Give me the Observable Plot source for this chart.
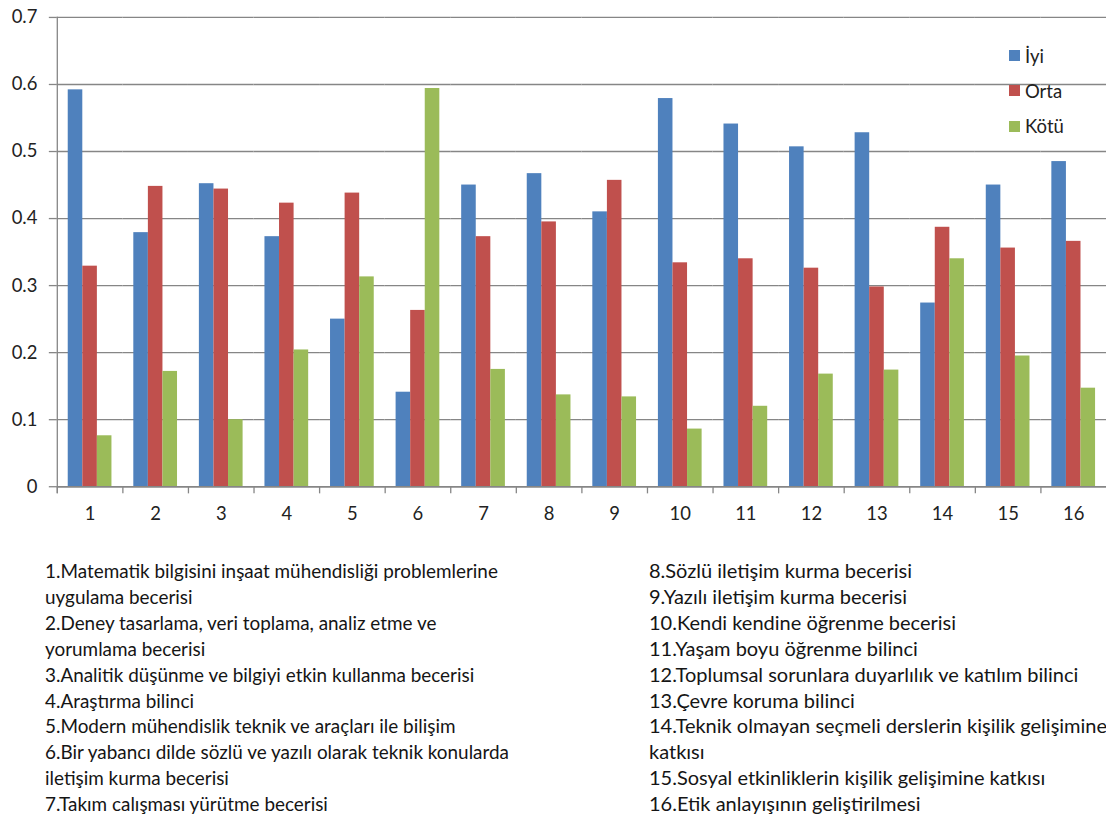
<!DOCTYPE html>
<html>
<head>
<meta charset="utf-8">
<script src="https://cdn.jsdelivr.net/npm/d3@7"></script>
<script src="https://cdn.jsdelivr.net/npm/@observablehq/plot@0.6"></script>
<style>
  html, body { margin: 0; padding: 0; background: #fff; overflow: hidden; }
  #wrap { position: relative; width: 1106px; height: 821px; overflow: hidden; font-family: Lato, "Open Sans", sans-serif; color: #222; }
  #chart { position: absolute; left: 0; top: 0; }
  #legend { position: absolute; left: 1009px; top: 38px; }
  #legend .lg-swatch { height: 35.3px; padding-bottom: 0; font-size: 18.5px; color: #222; }
  #legend .lg-swatch svg { margin-right: 5px; }
  .notes { position: absolute; top: 558px; line-height: 25.9px; white-space: nowrap; color: #151515; }
  #notesLeft { left: 45px; font-size: 18.9px; }
  #notesRight { left: 649px; font-size: 20px; }
</style>
</head>
<body>
<div id="wrap">
  <div id="chart"></div>
  <div id="legend"></div>
  <div id="notesLeft" class="notes"></div>
  <div id="notesRight" class="notes"></div>
</div>
<script>
// Skill categories 1–16 and the share of answers per rating
const categories = ["1","2","3","4","5","6","7","8","9","10","11","12","13","14","15","16"];
const series = ["İyi", "Orta", "Kötü"];
const iyi  = [0.592, 0.379, 0.452, 0.373, 0.250, 0.141, 0.450, 0.467, 0.410, 0.579, 0.541, 0.507, 0.528, 0.274, 0.450, 0.485];
const orta = [0.329, 0.448, 0.444, 0.423, 0.438, 0.263, 0.373, 0.395, 0.457, 0.334, 0.340, 0.326, 0.298, 0.387, 0.356, 0.366];
const kotu = [0.076, 0.172, 0.100, 0.204, 0.313, 0.594, 0.175, 0.137, 0.134, 0.086, 0.120, 0.168, 0.174, 0.340, 0.195, 0.147];
const yTicks = [0, 0.1, 0.2, 0.3, 0.4, 0.5, 0.6, 0.7];
const colors = ["#4F81BD", "#C0504D", "#9BBB59"];

// Category descriptions listed under the chart
const notesLeft = [
  "1.Matematik bilgisini inşaat mühendisliği problemlerine",
  "uygulama becerisi",
  "2.Deney tasarlama, veri toplama, analiz etme ve",
  "yorumlama becerisi",
  "3.Analitik düşünme ve bilgiyi etkin kullanma becerisi",
  "4.Araştırma bilinci",
  "5.Modern mühendislik teknik ve araçları ile bilişim",
  "6.Bir yabancı dilde sözlü ve yazılı olarak teknik konularda",
  "iletişim kurma becerisi",
  "7.Takım calışması yürütme becerisi"
];
const notesRight = [
  "8.Sözlü iletişim kurma becerisi",
  "9.Yazılı iletişim kurma becerisi",
  "10.Kendi kendine öğrenme becerisi",
  "11.Yaşam boyu öğrenme bilinci",
  "12.Toplumsal sorunlara duyarlılık ve katılım bilinci",
  "13.Çevre koruma bilinci",
  "14.Teknik olmayan seçmeli derslerin kişilik gelişimine",
  "katkısı",
  "15.Sosyal etkinliklerin kişilik gelişimine katkısı",
  "16.Etik anlayışının geliştirilmesi"
];

const valuesBySeries = [iyi, orta, kotu];
const data = [];
categories.forEach((c, i) => {
  series.forEach((s, j) => data.push({category: c, series: s, value: valuesBySeries[j][i]}));
});

const axisGray = "#868686";

const chart = Plot.plot({
  width: 1110,
  height: 540,
  marginLeft: 57,
  marginRight: 0,
  marginTop: 17,
  marginBottom: 52,
  style: {fontFamily: "Lato, 'Open Sans', sans-serif", fontSize: "18.5px", background: "#fff", color: "#222"},
  fx: {domain: categories, padding: 0, round: false, axis: null, label: null},
  x: {domain: series, paddingInner: 0, paddingOuter: 0.75, round: false, axis: null},
  y: {domain: [0, 0.7], axis: null},
  color: {domain: series, range: colors},
  marks: [
    Plot.gridY(yTicks, {stroke: axisGray, strokeOpacity: 1, strokeWidth: 1.3}),
    Plot.barY(data, {fx: "category", x: "series", y: "value", fill: "series"}),
    Plot.ruleY([0], {stroke: axisGray, strokeWidth: 1.3}),
    // category boundary ticks below the baseline
    Plot.frame({anchor: "left", stroke: axisGray, strokeWidth: 1.3, insetTop: 471, insetBottom: -6}),
    // vertical value axis line
    Plot.frame({anchor: "left", stroke: axisGray, strokeWidth: 1.3, insetBottom: -6, facetAnchor: "left"}),
    Plot.axisY(yTicks, {
      tickSize: 8, tickPadding: 12, stroke: axisGray, strokeWidth: 1.3, fill: "#222",
      tickFormat: d => d === 0 ? "0" : d.toFixed(1), label: null
    }),
    Plot.axisFx({anchor: "bottom", tickSize: 0, tickPadding: 20, fill: "#222", label: null})
  ]
});
document.getElementById("chart").appendChild(chart);

const legend = Plot.legend({
  color: {domain: series, range: colors},
  legend: "swatches",
  columns: 1,
  swatchSize: 11,
  className: "lg",
  style: {fontFamily: "Lato, 'Open Sans', sans-serif", fontSize: "18.5px"}
});
document.getElementById("legend").appendChild(legend);

for (const [id, lines] of [["notesLeft", notesLeft], ["notesRight", notesRight]]) {
  const el = document.getElementById(id);
  for (const line of lines) {
    const div = document.createElement("div");
    div.textContent = line;
    el.appendChild(div);
  }
}
</script>
</body>
</html>
